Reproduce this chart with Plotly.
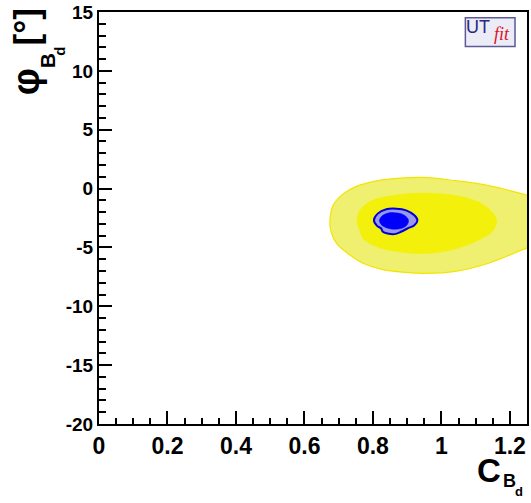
import plotly.graph_objects as go

# Contour outlines (C_Bd, phi_Bd in degrees)
outer_yellow_x = [1.25, 1.235, 1.138, 1.041, 0.945, 0.848, 0.800, 0.752, 0.713, 0.684, 0.676,
                  0.676, 0.694, 0.732, 0.771, 0.829, 0.897, 0.954, 1.041, 1.138, 1.235, 1.25]
outer_yellow_y = [-0.60, -0.45, 0.25, 0.67, 0.95, 0.81, 0.59, 0.19, -0.45, -1.40, -2.24,
                  -3.42, -4.66, -5.63, -6.34, -6.89, -7.12, -7.20, -7.03, -6.34, -5.21, -5.02]

inner_yellow_x = [1.162, 1.148, 1.109, 1.041, 0.945, 0.868, 0.810, 0.781, 0.759, 0.754,
                  0.762, 0.771, 0.810, 0.868, 0.954, 1.041, 1.109, 1.148]
inner_yellow_y = [-2.77, -1.99, -1.15, -0.59, -0.37, -0.54, -0.87, -1.29, -1.99, -2.83,
                  -3.59, -4.24, -4.93, -5.35, -5.52, -5.13, -4.37, -3.67]

outer_blue_x = [0.803, 0.814, 0.839, 0.868, 0.897, 0.921, 0.930, 0.921, 0.901, 0.882,
                0.863, 0.843, 0.829, 0.824, 0.812]
outer_blue_y = [-2.69, -2.13, -1.76, -1.71, -1.85, -2.27, -2.69, -3.11, -3.39, -3.67,
                -3.87, -3.82, -3.67, -3.39, -3.17]

inner_blue_x = [0.819, 0.829, 0.848, 0.872, 0.892, 0.904, 0.899, 0.882, 0.858, 0.837, 0.824]
inner_blue_y = [-2.69, -2.27, -2.05, -2.08, -2.27, -2.69, -3.11, -3.39, -3.45, -3.31, -3.06]

x_ticks = [0, 0.2, 0.4, 0.6, 0.8, 1, 1.2]
x_tick_labels = ["0", "0.2", "0.4", "0.6", "0.8", "1", "1.2"]
y_ticks = [-20, -15, -10, -5, 0, 5, 10, 15]
y_tick_labels = ["-20", "-15", "-10", "-5", "0", "5", "10", "15"]


def closed(a):
    return list(a) + [a[0]]


fig = go.Figure()
fig.add_trace(go.Scatter(x=closed(outer_yellow_x), y=closed(outer_yellow_y), mode="lines",
                         fill="toself", fillcolor="rgb(240,240,112)",
                         line=dict(color="rgb(242,228,0)", width=1.2, shape="spline"),
                         hoverinfo="skip", showlegend=False))
fig.add_trace(go.Scatter(x=closed(inner_yellow_x), y=closed(inner_yellow_y), mode="lines",
                         fill="toself", fillcolor="rgb(243,240,12)",
                         line=dict(color="rgb(243,240,12)", width=0.5, shape="spline"),
                         hoverinfo="skip", showlegend=False))
fig.add_trace(go.Scatter(x=closed(outer_blue_x), y=closed(outer_blue_y), mode="lines",
                         fill="toself", fillcolor="rgb(153,153,235)",
                         line=dict(color="rgb(0,0,220)", width=2, shape="spline"),
                         hoverinfo="skip", showlegend=False))
fig.add_trace(go.Scatter(x=closed(inner_blue_x), y=closed(inner_blue_y), mode="lines",
                         fill="toself", fillcolor="rgb(0,0,250)",
                         line=dict(color="rgb(0,0,250)", width=0.5, shape="spline"),
                         hoverinfo="skip", showlegend=False))

sans = "Liberation Sans, Arial, sans-serif"
xtickfont = dict(family=sans, size=23, color="black", weight="bold")
ytickfont = dict(family=sans, size=19, color="black", weight="bold")

fig.update_layout(
    width=531, height=503,
    margin=dict(l=99, r=2, t=8, b=79),
    paper_bgcolor="white", plot_bgcolor="white",
    xaxis=dict(range=[0, 1.25], tickvals=x_ticks, ticktext=x_tick_labels,
               ticks="inside", ticklen=13, tickwidth=2, tickcolor="black",
               minor=dict(dtick=0.05, ticks="inside", ticklen=6, tickwidth=2, tickcolor="black"),
               showline=True, linewidth=2, linecolor="black", mirror=True,
               showgrid=False, zeroline=False, tickfont=xtickfont, ticklabeloverflow="allow"),
    yaxis=dict(range=[-20, 15], tickvals=y_ticks, ticktext=y_tick_labels,
               ticks="inside", ticklen=13, tickwidth=2, tickcolor="black",
               minor=dict(dtick=1, ticks="inside", ticklen=7, tickwidth=2, tickcolor="black"),
               showline=True, linewidth=2, linecolor="black", mirror=True,
               showgrid=False, zeroline=False, tickfont=ytickfont, ticklabeloverflow="allow"),
)


def label(text, x, y, size, angle=0, family=sans, color="black"):
    fig.add_annotation(xref="paper", yref="paper", x=x, y=y, xanchor="center", yanchor="middle",
                       text=text, textangle=angle, showarrow=False,
                       font=dict(family=family, size=size, color=color))


# x-axis title C_{B_d}
label("<b>C</b>", 0.9105, -0.114, 33)
label("<b>B</b>", 0.958, -0.138, 18)
label("<b>d</b>", 0.981, -0.163, 13)

# y-axis title phi_{B_d} [deg]
label("<b>φ</b>", -0.170, 0.830, 38, angle=-90)
label("<b>B</b>", -0.120, 0.882, 21, angle=-90)
label("<b>d</b>", -0.092, 0.905, 15, angle=-90)
label("<b>[°]</b>", -0.170, 0.963, 35, angle=-90)

# UTfit logo
fig.add_shape(type="rect", xref="paper", yref="paper", x0=0.856, x1=0.972, y0=0.916, y1=0.986,
              line=dict(color="rgb(90,90,150)", width=1.5), fillcolor="rgb(236,236,246)")
label("UT", 0.885, 0.963, 18, color="rgb(40,40,130)")
label("<i>fit</i>", 0.941, 0.947, 18, family="Liberation Serif, serif", color="rgb(220,20,30)")

fig.write_html("out.html", config={"displayModeBar": False},
               post_script="document.body.style.margin='0px';document.body.style.overflow='hidden';")
